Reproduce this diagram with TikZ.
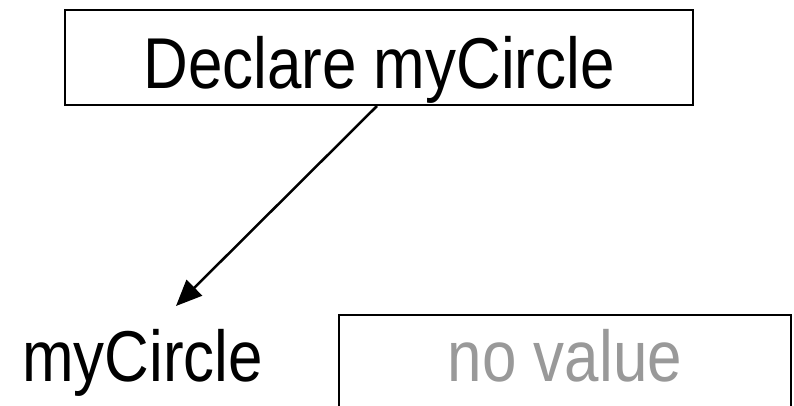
\documentclass[tikz,border=0pt]{standalone}
\usepackage{fontspec}
\setmainfont{Liberation Sans}
\usetikzlibrary{arrows.meta}
\newcommand{\condensed}[1]{\scalebox{0.86}[1]{#1}}
\definecolor{valuegray}{HTML}{999999}
\begin{document}
\begin{tikzpicture}[x=1pt,y=-1pt,
  box/.style={draw=black, line width=2pt, inner sep=0pt},
  word/.style={font=\fontsize{72}{80}\selectfont, inner sep=0pt},
  link/.style={line width=2.5pt, -{Triangle[length=26pt,width=22pt]}},
]
\useasboundingbox (0,0) rectangle (794,405);
\clip (0,0) rectangle (794,405);
\fill[white] (0,0) rectangle (794,405);

% declaration box
\node[box, minimum width=628pt, minimum height=95pt] (decl) at (379,57.5) {};
\node[word, anchor=base] (decltext) at (379,88) {\condensed{Declare myCircle}};

% variable name and its (empty) value cell
\node[word, anchor=base west] (name) at (22,381) {\condensed{myCircle}};
\node[box, minimum width=452pt, minimum height=150pt] (cell) at (565,390) {};
\node[word, anchor=base, text=valuegray] (value) at (565,381) {\condensed{no value}};

% reference arrow
\coordinate (tip) at (176,306);
\draw[link] ([xshift=-2pt]decl.south) -- (tip);
\end{tikzpicture}
\end{document}
